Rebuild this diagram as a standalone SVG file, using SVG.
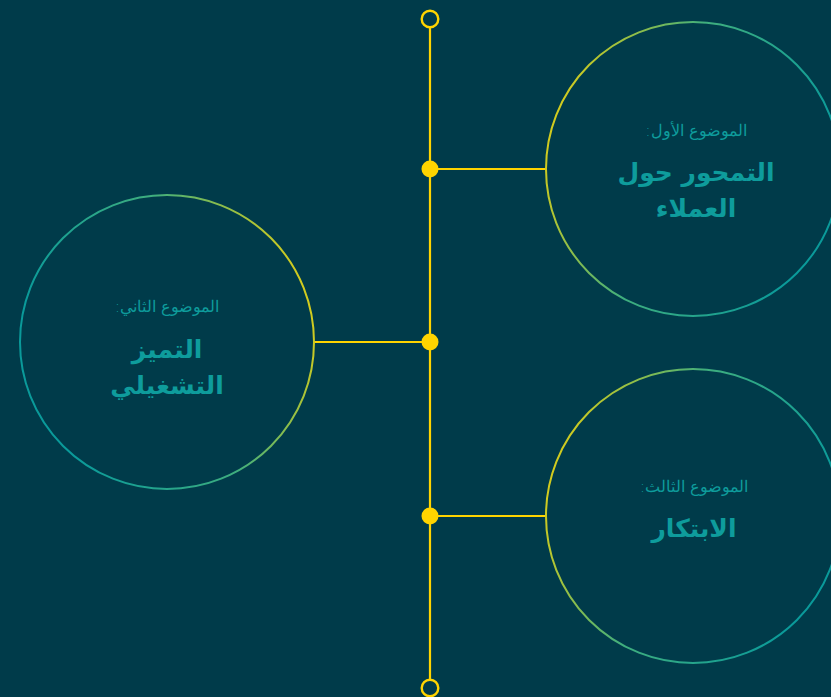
<svg xmlns="http://www.w3.org/2000/svg" width="831" height="697" viewBox="0 0 831 697">
<defs>
<linearGradient id="gR" x1="0" y1="0" x2="1" y2="0.3">
<stop offset="0" stop-color="#FFD400"/><stop offset="0.5" stop-color="#3FAE7E"/><stop offset="1" stop-color="#0A9A9A"/>
</linearGradient>
<linearGradient id="gL" x1="1" y1="0" x2="0" y2="0.3">
<stop offset="0" stop-color="#FFD400"/><stop offset="0.5" stop-color="#3FAE7E"/><stop offset="1" stop-color="#0A9A9A"/>
</linearGradient>
<style>
.lab{font-family:"DejaVu Sans",sans-serif;font-size:16px;fill:#0E9C9C;text-anchor:middle;font-weight:300}
.ttl{font-family:"DejaVu Sans",sans-serif;font-size:25px;fill:#0E9C9C;text-anchor:middle;font-weight:bold}
.ln{stroke:#FFD400;stroke-width:2.2;fill:none}
.dot{fill:#FFD400}
.end{fill:none;stroke:#FFD400;stroke-width:2.4}
</style>
</defs>
<rect width="831" height="697" fill="#003B4A"/>
<g id="connectors">
<line class="ln" x1="430" y1="27" x2="430" y2="680"/>
<line class="ln" x1="430" y1="169" x2="546" y2="169"/>
<line class="ln" x1="314" y1="342" x2="430" y2="342"/>
<line class="ln" x1="430" y1="516" x2="546" y2="516"/>
<circle class="end" cx="430" cy="19" r="8.3"/>
<circle class="end" cx="430" cy="688" r="8.3"/>
<circle class="dot" cx="430" cy="169" r="8.5"/>
<circle class="dot" cx="430" cy="342" r="8.5"/>
<circle class="dot" cx="430" cy="516" r="8.5"/>
</g>
<g id="topic1">
<circle cx="693" cy="169" r="147" fill="none" stroke="url(#gR)" stroke-width="2"/>
<text class="lab" x="696" y="136" direction="rtl">الموضوع الأول:</text>
<text class="ttl" x="696" y="181" direction="rtl">التمحور حول</text>
<text class="ttl" x="696" y="217" direction="rtl">العملاء</text>
</g>
<g id="topic2">
<circle cx="167" cy="342" r="147" fill="none" stroke="url(#gL)" stroke-width="2"/>
<text class="lab" x="167" y="312" direction="rtl">الموضوع الثاني:</text>
<text class="ttl" x="167" y="358" direction="rtl">التميز</text>
<text class="ttl" x="167" y="394" direction="rtl">التشغيلي</text>
</g>
<g id="topic3">
<circle cx="693" cy="516" r="147" fill="none" stroke="url(#gR)" stroke-width="2"/>
<text class="lab" x="694" y="492" direction="rtl">الموضوع الثالث:</text>
<text class="ttl" x="694" y="537" direction="rtl">الابتكار</text>
</g>
</svg>
